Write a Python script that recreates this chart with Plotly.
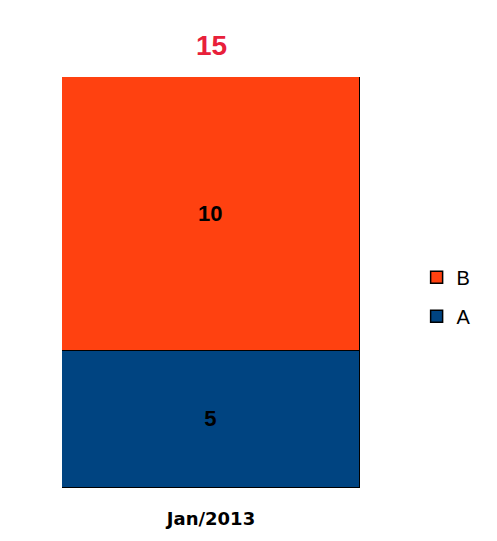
import plotly.graph_objects as go

categories = ["Jan/2013"]
series_a = [5]
series_b = [10]
totals = [a + b for a, b in zip(series_a, series_b)]

color_a = "#004481"
color_b = "#FF4110"

fig = go.Figure()
fig.add_trace(go.Bar(
    x=categories, y=series_a, name="A", legendgroup="A", legendrank=2,
    marker=dict(color=color_a, line=dict(color="black", width=1.5)),
    text=[str(v) for v in series_a], textposition="inside",
    insidetextanchor="middle",
    textfont=dict(family="Arial", size=22, color="black", weight="bold"),
))
fig.add_trace(go.Bar(
    x=categories, y=series_b, name="B", legendgroup="B", legendrank=1,
    marker=dict(color=color_b, line=dict(color="black", width=1.5)),
    text=[str(v) for v in series_b], textposition="inside",
    insidetextanchor="middle",
    textfont=dict(family="Arial", size=22, color="black", weight="bold"),
))

for c, t in zip(categories, totals):
    fig.add_annotation(
        x=c, y=t, text=f"<b>{t}</b>", showarrow=False,
        yanchor="bottom", yshift=14,
        font=dict(family="Arial", size=28, color="#E8203A"),
    )

fig.update_layout(
    width=497, height=541,
    margin=dict(l=54, r=145, t=69, b=61),
    barmode="stack", bargap=0,
    plot_bgcolor="white", paper_bgcolor="white",
    showlegend=True,
    legend=dict(
        x=1.19, y=0.56, xanchor="left", yanchor="top",
        traceorder="grouped", tracegroupgap=10,
        font=dict(family="Arial", size=20, color="black"),
        bgcolor="rgba(0,0,0,0)",
    ),
    xaxis=dict(
        showgrid=False, zeroline=False, showline=False, ticks="",
        ticklabelstandoff=18,
        tickfont=dict(family="DejaVu Sans", size=18, color="black", weight="bold"),
    ),
    yaxis=dict(
        range=[0, 15], showgrid=False, zeroline=False, showline=False,
        showticklabels=False, ticks="",
    ),
)

fig.write_html("out.html")
